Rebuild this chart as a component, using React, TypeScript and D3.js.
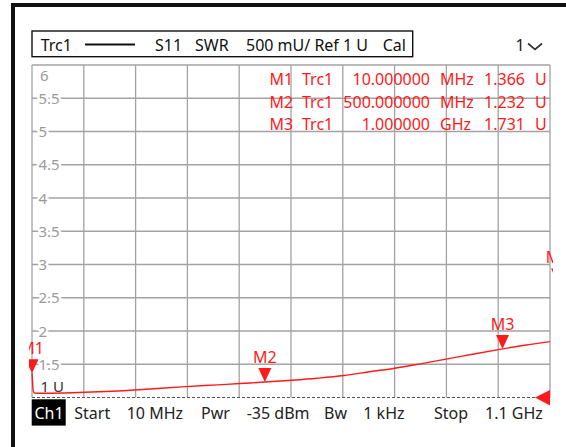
import React from "react";
import * as d3 from "d3";

// ---- data ----
const freqMHz = [10, 11, 12, 13.5, 16, 25, 50, 80, 120, 180, 250, 325, 400, 448, 500, 557, 610, 666, 723, 773, 830, 884, 940, 1000, 1050, 1100];
const swr = [1.366, 1.25, 1.14, 1.08, 1.066, 1.063, 1.064, 1.068, 1.078, 1.095, 1.125, 1.16, 1.19, 1.21, 1.232, 1.26, 1.29, 1.33, 1.39, 1.44, 1.51, 1.58, 1.655, 1.731, 1.79, 1.84];

const yTicks = [1.5, 2, 2.5, 3, 3.5, 4, 4.5, 5, 5.5];
const yTickLabels = ["1.5", "2", "2.5", "3", "3.5", "4", "4.5", "5", "5.5"];
const yTopLabel = "6";
const yRefLabel = "1 U";

const markerNames = ["M1", "M2", "M3", "M4"];
const markerFreq = [10, 500, 1000, 1116];
const markerValue = [1.366, 1.232, 1.731, 2.73];

const tableNames = ["M1", "M2", "M3"];
const tableTrc = ["Trc1", "Trc1", "Trc1"];
const tableStim = ["10.000000", "500.000000", "1.000000"];
const tableStimUnit = ["MHz", "MHz", "GHz"];
const tableVal = ["1.366", "1.232", "1.731"];
const tableValUnit = ["U", "U", "U"];

const headerWords = ["Trc1", "S11", "SWR", "500 mU/ Ref 1 U", "Cal"];
const bottomWords = ["Start", "10 MHz", "Pwr", "-35 dBm", "Bw", "1 kHz", "Stop", "1.1 GHz"];

// ---- layout ----
const W = 566, H = 447;
const L = 32, R = 550, T = 65, B = 397.5;
const FONT = "'Noto Sans', 'Open Sans', sans-serif";
const headerX = [40.7, 155, 195, 246, 382.7];
const bottomX = [74.3, 126.7, 201, 246.7, 324, 363.3, 434, 485];

export default function App() {
  const x = d3.scaleLinear().domain([10, 1100]).range([L, R]);
  const y = d3.scaleLinear().domain([1, 6]).range([B, T]);
  const xGrid = d3.range(11).map((i) => 10 + (i * 1090) / 10);

  const line = d3
    .line<number>()
    .x((_, i) => x(freqMHz[i]))
    .y((d) => y(d))
    .curve(d3.curveMonotoneX);

  const gridColor = "#a3a3a3";
  const red = "#ff1a1a";

  return (
    <svg
      width={W}
      height={H}
      style={{ position: "absolute", left: 0, top: 0, background: "#fff" }}
      fontFamily={FONT}
    >
      <defs>
        <clipPath id="mclip">
          <rect x={29} y={T - 5} width={553 - 29} height={B - T + 20} />
        </clipPath>
      </defs>
      <rect x={0} y={0} width={W} height={H} fill="#fff" />
      {/* outer frame */}
      <rect x={11} y={3} width={4} height={H} fill="#111" />
      <rect x={11} y={3} width={W} height={4} fill="#111" />

      {/* header */}
      <rect x={32} y={31} width={380.7} height={25.7} fill="none" stroke="#111" strokeWidth={1.4} />
      {headerWords.map((w, i) => (
        <text key={w} x={headerX[i]} y={51} fontSize={16} fill="#111">
          {w}
        </text>
      ))}
      <line x1={85} x2={135} y1={44.5} y2={44.5} stroke="#111" strokeWidth={2} />
      <text x={515.5} y={51} fontSize={16} fill="#222">1</text>
      <polyline points="528,43.5 535,49.5 542,43.5" fill="none" stroke="#333" strokeWidth={1.7} />

      {/* grid */}
      {xGrid.map((f, i) => (
        <line key={"v" + i} x1={x(f)} x2={x(f)} y1={T} y2={B} stroke={gridColor} strokeWidth={1.3} />
      ))}
      <line x1={L} x2={R} y1={T} y2={T} stroke={gridColor} strokeWidth={1.3} />
      {yTicks.map((v) => (
        <line key={"h" + v} x1={L} x2={R} y1={y(v)} y2={y(v)} stroke={gridColor} strokeWidth={1.3} />
      ))}
      <line x1={L} x2={R} y1={B} y2={B} stroke="#555" strokeWidth={1.2} strokeDasharray="3,2" />

      {/* y labels */}
      {yTicks.map((v, i) => (
        <text
          key={"t" + v}
          x={38.5}
          y={y(v) + 5.5}
          fontSize={15}
          fill="#9a9a9a"
          stroke="#fff"
          strokeWidth={5}
          paintOrder="stroke"
          strokeLinejoin="round"
        >
          {yTickLabels[i]}
        </text>
      ))}
      <text x={40} y={81} fontSize={15} fill="#9a9a9a">{yTopLabel}</text>
      <text x={40.5} y={391.7} fontSize={15} fill="#333">{yRefLabel}</text>

      {/* marker table */}
      {tableNames.map((n, i) => {
        const by = 85 + i * 22.5;
        return (
          <g key={n} fontSize={16} fill={red}>
            <text x={269.5} y={by}>{n}</text>
            <text x={302} y={by}>{tableTrc[i]}</text>
            <text x={430} y={by} textAnchor="end">{tableStim[i]}</text>
            <text x={440} y={by}>{tableStimUnit[i]}</text>
            <text x={525} y={by} textAnchor="end">{tableVal[i]}</text>
            <text x={535} y={by}>{tableValUnit[i]}</text>
          </g>
        );
      })}

      {/* trace */}
      <path d={line(swr) || ""} fill="none" stroke={red} strokeWidth={1.4} />

      {/* markers */}
      <g clipPath="url(#mclip)">
        {markerNames.map((n, i) => {
          const mx = x(markerFreq[i]);
          const my = y(markerValue[i]);
          return (
            <g key={n}>
              <path d={`M${mx},${my} L${mx - 6.5},${my - 14} L${mx + 6.5},${my - 14} Z`} fill={red} />
              <text x={mx} y={my - 19} fontSize={16} fill={red} textAnchor="middle">
                {n}
              </text>
            </g>
          );
        })}
      </g>

      {/* reference level triangle */}
      <path d={`M${R - 15},${B} L${R},${B - 7.5} L${R},${B + 8} Z`} fill={red} />

      {/* bottom bar */}
      <rect x={31.7} y={399.3} width={34} height={26.3} fill="#000" />
      <text x={34.5} y={419} fontSize={16} fill="#fff">Ch1</text>
      {bottomWords.map((w, i) => (
        <text key={w} x={bottomX[i]} y={419} fontSize={16} fill="#222">
          {w}
        </text>
      ))}
    </svg>
  );
}
